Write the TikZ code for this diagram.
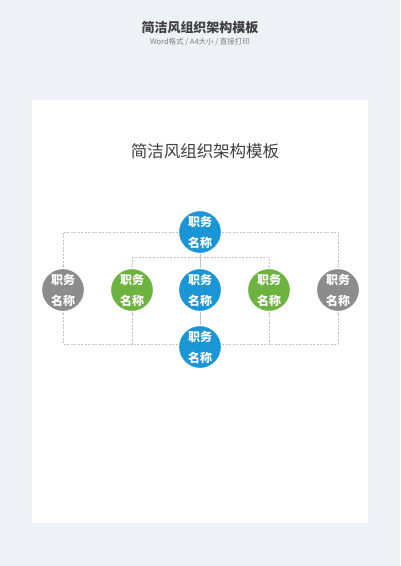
\documentclass[tikz,border=0pt]{standalone}
\usepackage{fontspec}
\setmainfont{Noto Sans CJK SC}
\usetikzlibrary{arrows.meta,calc}
\definecolor{bgcol}{HTML}{EEF1F6}
\definecolor{blue1}{HTML}{1A96D6}
\definecolor{green1}{HTML}{6DB33F}
\definecolor{gray1}{HTML}{8C8C8C}
\definecolor{linecol}{HTML}{C4C4C4}
\tikzset{
  post/.style={circle, draw=white, line width=1.2pt, minimum size=43pt, inner sep=0pt,
    text=white, align=center, font=\fontsize{12}{21}\selectfont\bfseries},
  dashline/.style={draw=linecol, line width=0.6pt, dash pattern=on 2pt off 1.5pt},
  tip/.style={-{Stealth[length=2.2pt,width=2.2pt]}}
}
\begin{document}
\begin{tikzpicture}[x=1pt,y=-1pt]
\fill[bgcol] (0,0) rectangle (400,566);
\fill[white] (32,100) rectangle (368,523);
\node[font=\fontsize{13}{15}\selectfont\bfseries, text=black!75] (head) at (200,28) {简洁风组织架构模板};
\node[font=\fontsize{7.5}{8}\selectfont, text=black!50] (sub) at (200,42) {Word格式 / A4大小 / 直接打印};
\node[font=\fontsize{16.5}{19}\selectfont, text=black!75] (title) at (205,151) {简洁风组织架构模板};

\node[post, fill=blue1] (1) at (200,232) {职务\\名称};
\node[post, fill=gray1] (2) at (63,290) {职务\\名称};
\node[post, fill=green1] (3) at (132,290) {职务\\名称};
\node[post, fill=blue1] (4) at (200,290) {职务\\名称};
\node[post, fill=green1] (5) at (269,290) {职务\\名称};
\node[post, fill=gray1] (6) at (338,290) {职务\\名称};
\node[post, fill=blue1] (7) at (200,347) {职务\\名称};

\coordinate (fork) at ($(1.south)!0.25!(4.north)$);
\coordinate (base) at ($(7.west)+(0,-3)$);

\path[draw,line width=0.8pt,linecol] (1) -- (4);
\path[draw,line width=0.8pt,linecol] (4) -- (7);
\path[dashline,tip] (1.west) -| (2.north);
\path[dashline,tip] (1.east) -| (6.north);
\path[dashline,tip] (fork) -| (3.north);
\path[dashline,tip] (fork) -| (5.north);
\path[dashline,tip] (base) -| (2.south);
\path[dashline,tip] (base) -| (3.south);
\path[dashline,tip] ($(7.east)+(0,-3)$) -| (5.south);
\path[dashline,tip] ($(7.east)+(0,-3)$) -| (6.south);
\end{tikzpicture}
\end{document}
